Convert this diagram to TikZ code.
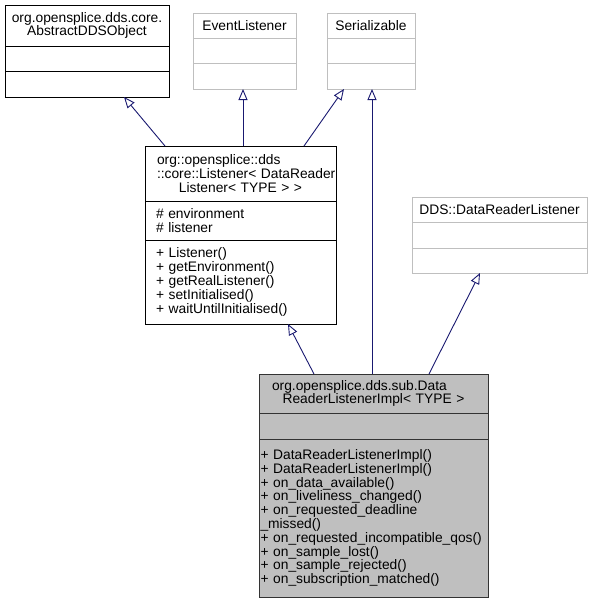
\documentclass[tikz,border=0pt]{standalone}
\usepackage{fontspec}
\setmainfont{Liberation Sans}
\usetikzlibrary{positioning,arrows.meta}
\definecolor{edgeblue}{HTML}{191970}
\definecolor{greyline}{HTML}{BFBFBF}
\definecolor{mainfill}{HTML}{BFBFBF}

\begin{document}
\begin{tikzpicture}[x=1pt,y=-1pt,>={Triangle[open,length=11pt,width=9pt]}]
    \useasboundingbox (0,0) rectangle (592,603);

        \tikzstyle{part} = [draw, rectangle, line width=0.9pt, inner sep=0pt, outer sep=0pt, font=\fontsize{13.8}{13.8}\selectfont];
        \tikzstyle{known} = [part, draw=black];
        \tikzstyle{external} = [part, draw=greyline];
        \tikzstyle{current} = [part, draw=black!80, fill=mainfill];
        \tikzstyle{inherit} = [->, draw=edgeblue, line width=0.9pt];

        % parents at the top
        \node[known, anchor=north west, minimum width=164pt, minimum height=41pt, align=center] (objT) at (5,5) {org.opensplice.dds.core.\\AbstractDDSObject};
        \node[known, minimum width=164pt, minimum height=25pt] (objA) [below=0pt of objT] {};
        \node[known, minimum width=164pt, minimum height=26pt] (objM) [below=0pt of objA] {};

        \node[external, anchor=north west, minimum width=103pt, minimum height=25pt] (evlT) at (193,13) {EventListener};
        \node[external, minimum width=103pt, minimum height=25pt] (evlA) [below=0pt of evlT] {};
        \node[external, minimum width=103pt, minimum height=26pt] (evlM) [below=0pt of evlA] {};

        \node[external, anchor=north west, minimum width=88pt, minimum height=25pt] (serT) at (327,13) {Serializable};
        \node[external, minimum width=88pt, minimum height=25pt] (serA) [below=0pt of serT] {};
        \node[external, minimum width=88pt, minimum height=26pt] (serM) [below=0pt of serA] {};

        % listener template
        \node[known, anchor=north west, text width=167pt, inner xsep=12pt, minimum height=55pt, align=left] (lstT) at (145,146) {\mbox{org::opensplice::dds}\\\mbox{::core::Listener< DataReader}\par\centerline{Listener< TYPE > >}};
        \node[known, text width=169pt, inner xsep=11pt, minimum height=39pt, align=left] (lstA) [below=0pt of lstT] {\# environment\\\# listener};
        \node[known, text width=169pt, inner xsep=11pt, minimum height=84pt, align=left] (lstM) [below=0pt of lstA] {+ Listener()\\+ getEnvironment()\\+ getRealListener()\\+ setInitialised()\\+ waitUntilInitialised()};

        \node[external, anchor=north west, minimum width=175pt, minimum height=25pt] (drlT) at (412,197) {DDS::DataReaderListener};
        \node[external, minimum width=175pt, minimum height=26pt] (drlA) [below=0pt of drlT] {};
        \node[external, minimum width=175pt, minimum height=25pt] (drlM) [below=0pt of drlA] {};

        % the class itself
        \node[current, anchor=north west, text width=203pt, inner xsep=13pt, minimum height=39pt, align=left] (implT) at (259,374) {\mbox{org.opensplice.dds.sub.Data}\par\centerline{ReaderListenerImpl< TYPE >}};
        \node[current, minimum width=229pt, minimum height=26pt] (implA) [below=0pt of implT] {};
        \node[current, text width=226pt, inner xsep=1.5pt, minimum height=158pt, align=left] (implM) [below=0pt of implA] {+ DataReaderListenerImpl()\\+ DataReaderListenerImpl()\\+ on\_data\_available()\\+ on\_liveliness\_changed()\\+ on\_requested\_deadline\\\_missed()\\+ on\_requested\_incompatible\_qos()\\+ on\_sample\_lost()\\+ on\_sample\_rejected()\\+ on\_subscription\_matched()};

        \path
            ([xshift=20pt]lstT.north west) edge[inherit] ([xshift=119pt]objM.south west)
            ([xshift=98pt]lstT.north west) edge[inherit] ([xshift=50pt]evlM.south west)
            ([xshift=159pt]lstT.north west) edge[inherit] ([xshift=17pt]serM.south west)
            ([xshift=113pt]implT.north west) edge[inherit] ([xshift=45pt]serM.south west)
            ([xshift=55pt]implT.north west) edge[inherit] ([xshift=143pt]lstM.south west)
            ([xshift=170pt]implT.north west) edge[inherit] ([xshift=68pt]drlM.south west);

    \end{tikzpicture}
\end{document}
